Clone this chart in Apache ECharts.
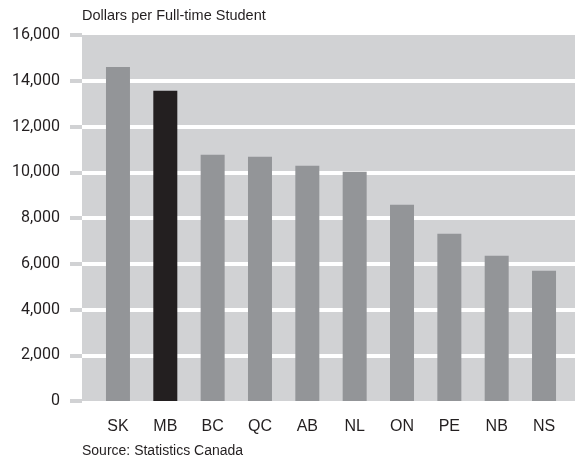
<!DOCTYPE html>
<html>
<head>
<meta charset="utf-8">
<script src="https://cdn.jsdelivr.net/npm/echarts@6/dist/echarts.min.js"></script>
<style>
html,body{margin:0;padding:0;background:#fff;}
#chart{width:575px;height:462px;}
</style>
</head>
<body>
<div id="chart"></div>
<script>
var provinces = ['SK', 'MB', 'BC', 'QC', 'AB', 'NL', 'ON', 'PE', 'NB', 'NS'];
var dollarsPerStudent = [14600, 13560, 10760, 10680, 10280, 10020, 8580, 7310, 6350, 5690];
var highlighted = 'MB';
var yTicks = [0, 2000, 4000, 6000, 8000, 10000, 12000, 14000, 16000];

var narrow = '"Liberation Sans Narrow", "Liberation Sans", sans-serif';

var chart = echarts.init(document.getElementById('chart'));
chart.setOption({
    animation: false,
    title: [
        {
            text: 'Dollars per Full-time Student',
            left: 82, top: 8, padding: 0,
            textStyle: {fontFamily: narrow, fontSize: 14.5, fontWeight: 'normal', color: '#231f20'}
        },
        {
            text: 'Source: Statistics Canada',
            left: 82, top: 444, padding: 0,
            textStyle: {fontFamily: narrow, fontSize: 14, fontWeight: 'normal', color: '#231f20'}
        }
    ],
    grid: [
        // grey background panel with the value axis
        {left: 82, right: 0, top: 35, bottom: 61, show: true, backgroundColor: '#d1d2d4', borderWidth: 0},
        // bars sit in a slightly inset band
        {left: 94.3, right: 7.3, top: 35, bottom: 61}
    ],
    xAxis: [
        {gridIndex: 0, type: 'category', data: provinces, show: false},
        {
            gridIndex: 1, type: 'category', data: provinces,
            axisLine: {show: false}, axisTick: {show: false},
            axisLabel: {margin: 18, fontFamily: narrow, fontSize: 16, color: '#231f20'}
        }
    ],
    yAxis: [
        {
            gridIndex: 0, type: 'value',
            min: yTicks[0], max: yTicks[yTicks.length - 1], interval: yTicks[1] - yTicks[0],
            axisLine: {show: false},
            axisTick: {show: true, length: 12, lineStyle: {color: '#d1d2d4', width: 4}},
            axisLabel: {
                margin: 22, fontFamily: 'Roboto, sans-serif', fontSize: 16, color: '#231f20',
                formatter: function (v) { return v.toLocaleString('en-US'); }
            },
            splitLine: {show: true, showMinLine: false, showMaxLine: false, lineStyle: {color: '#ffffff', width: 4}}
        },
        {
            gridIndex: 1, type: 'value',
            min: yTicks[0], max: yTicks[yTicks.length - 1], interval: yTicks[1] - yTicks[0],
            show: false, splitLine: {show: false}
        }
    ],
    series: [
        {
            type: 'bar',
            xAxisIndex: 1, yAxisIndex: 1,
            barWidth: 24,
            data: dollarsPerStudent.map(function (v, i) {
                return {
                    value: v,
                    itemStyle: {color: provinces[i] === highlighted ? '#231f20' : '#939598'}
                };
            })
        }
    ]
});
</script>
</body>
</html>
